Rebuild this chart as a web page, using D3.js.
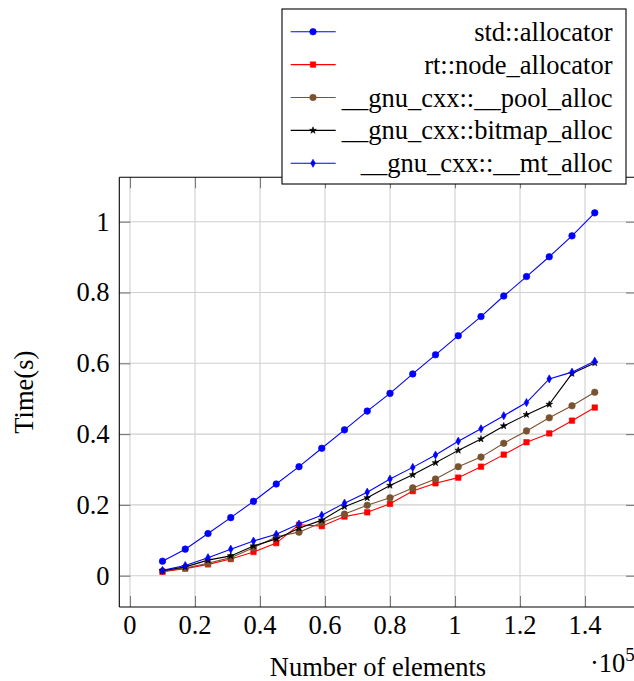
<!DOCTYPE html>
<html>
<head>
<meta charset="utf-8">
<script src="https://cdn.jsdelivr.net/npm/d3@7"></script>
<style>
  html, body { margin: 0; padding: 0; background: #fff; }
  svg { display: block; }
  text { font-family: "Liberation Serif", "Times New Roman", serif; fill: #000; }
</style>
</head>
<body>
<svg id="chart" width="634" height="681"></svg>
<script>
// ---------------- data ----------------
const elements = [10000, 17000, 24000, 31000, 38000, 45000, 52000, 59000, 66000, 73000,
                  80000, 87000, 94000, 101000, 108000, 115000, 122000, 129000, 136000, 143000];

const stdAllocator   = [0.041, 0.075, 0.119, 0.164, 0.210, 0.259, 0.308, 0.360, 0.412, 0.465,
                        0.515, 0.570, 0.624, 0.678, 0.732, 0.790, 0.845, 0.901, 0.960, 1.025];
const nodeAllocator  = [0.011, 0.020, 0.032, 0.047, 0.067, 0.092, 0.144, 0.140, 0.167, 0.179,
                        0.203, 0.239, 0.261, 0.277, 0.308, 0.342, 0.377, 0.402, 0.438, 0.475];
const poolAlloc      = [0.013, 0.022, 0.035, 0.051, 0.079, 0.110, 0.123, 0.150, 0.174, 0.199,
                        0.220, 0.248, 0.273, 0.308, 0.335, 0.374, 0.409, 0.446, 0.480, 0.518];
const bitmapAlloc    = [0.014, 0.025, 0.044, 0.056, 0.084, 0.104, 0.134, 0.157, 0.195, 0.220,
                        0.255, 0.285, 0.319, 0.354, 0.386, 0.423, 0.455, 0.484, 0.571, 0.601];
const mtAlloc        = [0.015, 0.029, 0.051, 0.075, 0.098, 0.117, 0.146, 0.171, 0.205, 0.236,
                        0.273, 0.306, 0.341, 0.380, 0.415, 0.452, 0.489, 0.556, 0.575, 0.606];

const seriesNames  = ["std::allocator", "rt::node_allocator", "__gnu_cxx::__pool_alloc",
                      "__gnu_cxx::bitmap_alloc", "__gnu_cxx::__mt_alloc"];
const seriesValues = [stdAllocator, nodeAllocator, poolAlloc, bitmapAlloc, mtAlloc];

const xTicks      = [0, 20000, 40000, 60000, 80000, 100000, 120000, 140000];
const xTickLabels = ["0", "0.2", "0.4", "0.6", "0.8", "1", "1.2", "1.4"];
const yTicks      = [0, 0.2, 0.4, 0.6, 0.8, 1];
const yTickLabels = ["0", "0.2", "0.4", "0.6", "0.8", "1"];

const xLabel = "Number of elements";
const yLabel = "Time(s)";

// ---------------- styles ----------------
const seriesColors = ["#0000ff", "#ff0000", "#7a5230", "#000000", "#0000ff"];
const seriesSymbols = [
  d3.symbol(d3.symbolCircle, 34),
  d3.symbol(d3.symbolSquare, 30),
  d3.symbol(d3.symbolCircle, 34),
  d3.symbol(d3.symbolStar, 14),
  d3.symbol(d3.symbolDiamond, 19)
];

const FS = 26.5;
const svg = d3.select("#chart");

const pLeft = 119.3, pRight = 637, pTop = 177.3, pBottom = 607;
const x = d3.scaleLinear().domain([-3292, 156000]).range([pLeft, pRight]);
const y = d3.scaleLinear().domain([-0.0884, 1.1254]).range([pBottom, pTop]);

// ---------------- grid ----------------
const grid = svg.append("g");
grid.selectAll("line.vx").data(xTicks).join("line")
  .attr("x1", d => x(d)).attr("x2", d => x(d))
  .attr("y1", pTop).attr("y2", pBottom)
  .attr("stroke", "#cfcfcf").attr("stroke-width", 1.1);
grid.selectAll("line.hy").data(yTicks).join("line")
  .attr("y1", d => y(d)).attr("y2", d => y(d))
  .attr("x1", pLeft).attr("x2", pRight)
  .attr("stroke", "#cfcfcf").attr("stroke-width", 1.1);

// ---------------- tick marks (inward, mirrored) ----------------
function styleAxis(g) {
  g.select(".domain").remove();
  g.selectAll(".tick line").attr("stroke", "#7a7a7a").attr("stroke-width", 1.1);
  g.selectAll(".tick text").remove();
}
svg.append("g").attr("transform", `translate(0,${pBottom})`)
  .call(d3.axisBottom(x).tickValues(xTicks).tickSize(-11)).call(styleAxis);
svg.append("g").attr("transform", `translate(0,${pTop})`)
  .call(d3.axisTop(x).tickValues(xTicks).tickSize(-11)).call(styleAxis);
svg.append("g").attr("transform", `translate(${pLeft},0)`)
  .call(d3.axisLeft(y).tickValues(yTicks).tickSize(-11)).call(styleAxis);
svg.append("g").attr("transform", `translate(${pRight},0)`)
  .call(d3.axisRight(y).tickValues(yTicks).tickSize(-11)).call(styleAxis);

// ---------------- series ----------------
const line = d3.line().x((d, i) => x(elements[i])).y(d => y(d));
seriesValues.forEach((vals, si) => {
  const g = svg.append("g");
  g.append("path").datum(vals)
    .attr("d", line)
    .attr("fill", "none")
    .attr("stroke", seriesColors[si])
    .attr("stroke-width", 1.1);
  g.selectAll("path.m").data(vals).join("path")
    .attr("class", "m")
    .attr("transform", (d, i) => `translate(${x(elements[i])},${y(d)})`)
    .attr("d", seriesSymbols[si]())
    .attr("fill", seriesColors[si])
    .attr("stroke", seriesColors[si])
    .attr("stroke-width", 0.6);
});

// ---------------- axis frame ----------------
svg.append("line").attr("x1", pLeft).attr("x2", pLeft).attr("y1", pTop).attr("y2", pBottom)
  .attr("stroke", "#000").attr("stroke-width", 1.1);
svg.append("line").attr("x1", pLeft).attr("x2", pRight).attr("y1", pBottom).attr("y2", pBottom)
  .attr("stroke", "#000").attr("stroke-width", 1.1);
svg.append("line").attr("x1", pLeft).attr("x2", pRight).attr("y1", pTop).attr("y2", pTop)
  .attr("stroke", "#000").attr("stroke-width", 1.1);
svg.append("line").attr("x1", pRight).attr("x2", pRight).attr("y1", pTop).attr("y2", pBottom)
  .attr("stroke", "#000").attr("stroke-width", 1.1);

// ---------------- tick labels ----------------
svg.append("g").selectAll("text").data(xTicks).join("text")
  .attr("x", d => x(d)).attr("y", 634)
  .attr("text-anchor", "middle").attr("font-size", FS)
  .text((d, i) => xTickLabels[i]);
svg.append("g").selectAll("text").data(yTicks).join("text")
  .attr("x", 109.5).attr("y", d => y(d) + 9)
  .attr("text-anchor", "end").attr("font-size", FS)
  .text((d, i) => yTickLabels[i]);

// ---------------- axis labels ----------------
svg.append("text").attr("x", 378).attr("y", 676)
  .attr("text-anchor", "middle").attr("font-size", FS).text(xLabel);
svg.append("text")
  .attr("transform", `translate(33,${(pTop + pBottom) / 2}) rotate(-90)`)
  .attr("text-anchor", "middle").attr("font-size", FS).text(yLabel);

const sc = svg.append("text").attr("x", 590).attr("y", 672).attr("font-size", FS);
sc.append("tspan").text("·10");
sc.append("tspan").attr("font-size", 19).attr("dy", -11).text("5");

// ---------------- legend ----------------
const lg = svg.append("g");
lg.append("rect").attr("x", 282).attr("y", 9).attr("width", 344).attr("height", 175)
  .attr("fill", "#fff").attr("stroke", "#000").attr("stroke-width", 1.1);
seriesNames.forEach((name, si) => {
  const cy = 31.7 + si * 32.9;
  lg.append("line").attr("x1", 290.7).attr("x2", 335.7).attr("y1", cy).attr("y2", cy)
    .attr("stroke", seriesColors[si]).attr("stroke-width", 1.1);
  lg.append("path").attr("transform", `translate(313,${cy})`)
    .attr("d", seriesSymbols[si]())
    .attr("fill", seriesColors[si]).attr("stroke", seriesColors[si]).attr("stroke-width", 0.6);
  lg.append("text").attr("x", 612.5).attr("y", cy + 9)
    .attr("text-anchor", "end").attr("font-size", FS).text(name);
});
</script>
</body>
</html>
